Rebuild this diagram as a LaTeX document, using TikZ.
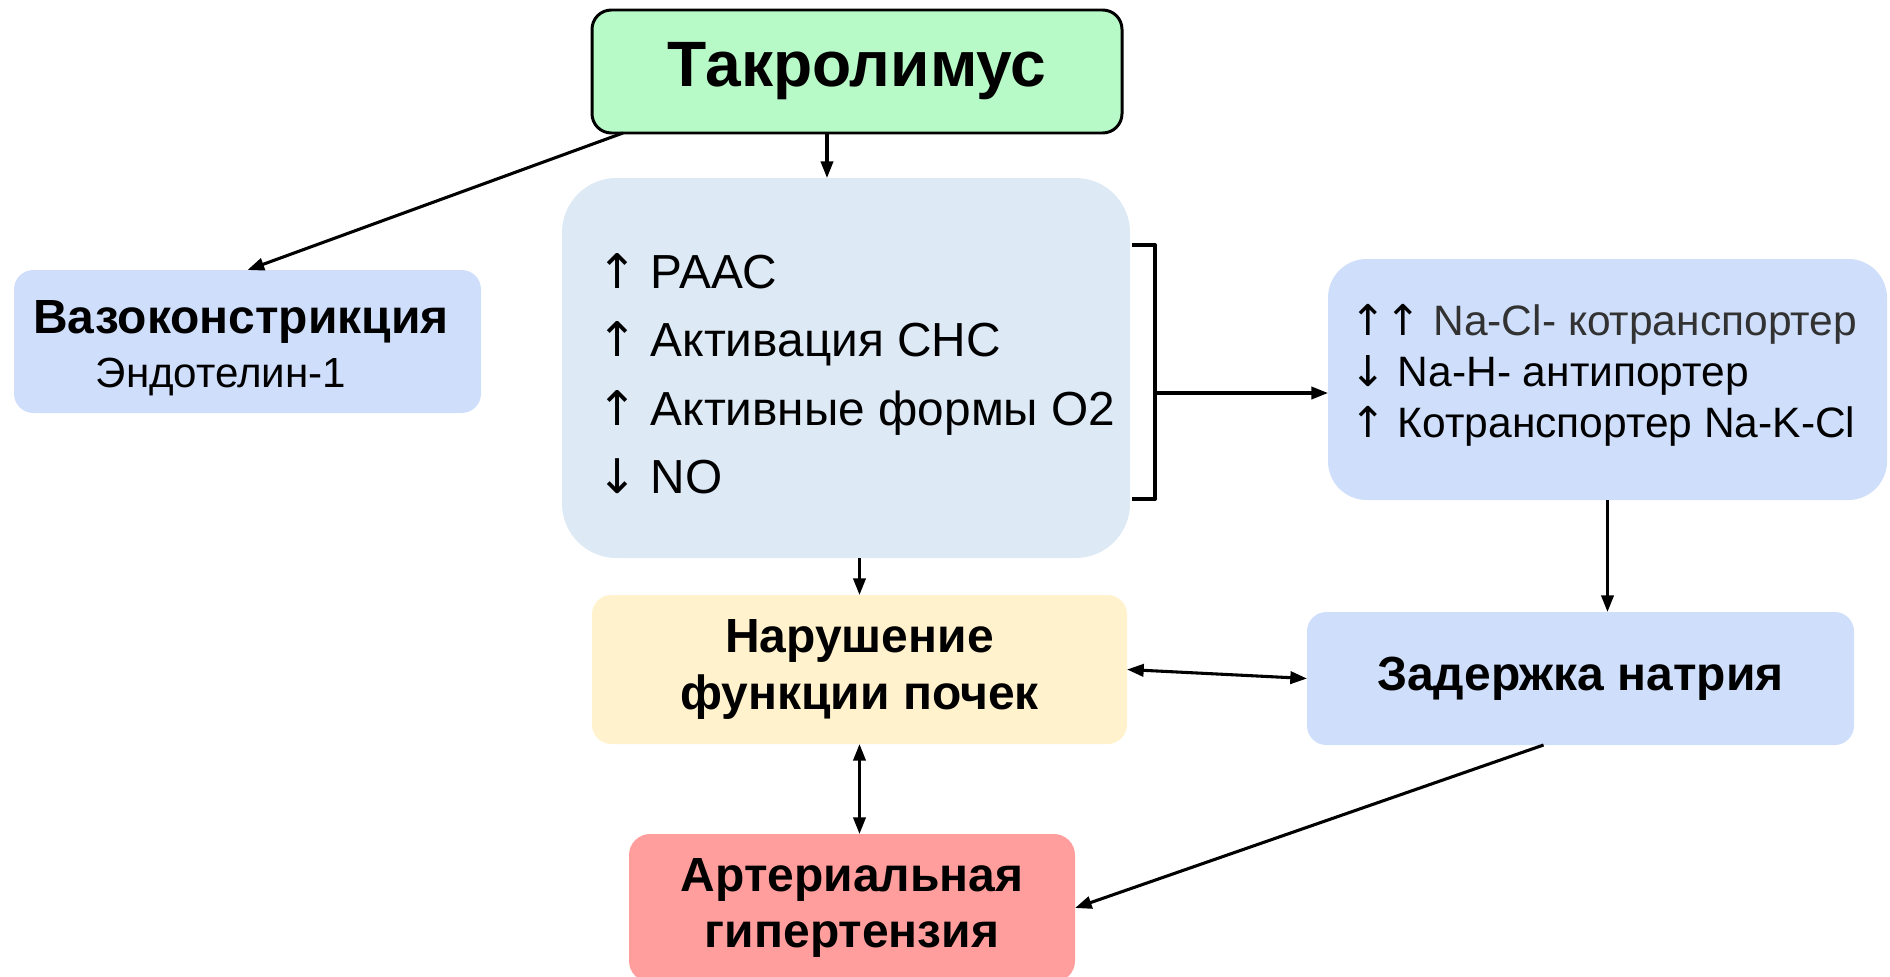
\documentclass[tikz,border=0pt]{standalone}
\usepackage{fontspec}
\setmainfont{Liberation Sans}
\newfontfamily\arrfont{DejaVu Sans}
\usetikzlibrary{arrows.meta,calc}
\definecolor{tacgreen}{RGB}{183,249,199}
\definecolor{vasob}{RGB}{207,222,250}
\definecolor{mechb}{RGB}{222,233,246}
\definecolor{naryel}{RGB}{255,242,204}
\definecolor{artred}{RGB}{255,158,156}
\definecolor{natxt}{RGB}{50,50,50}
\newcommand{\myup}{{\arrfont ↑}}
\newcommand{\mydown}{{\arrfont ↓}}
\begin{document}
\begin{tikzpicture}[x=0.02cm,y=-0.02cm,
  sz/.style 2 args={minimum width=#1*0.02cm, minimum height=#2*0.02cm},
  boxb/.style={inner sep=0pt, outer sep=0pt, align=center},
  boldlbl/.style={font=\fontsize{27.3}{32}\selectfont\bfseries},
  arr/.style={-{Triangle[length=9.5pt,width=7pt]}, line width=1.75pt},
  darr/.style={{Triangle[length=9.5pt,width=7pt]}-{Triangle[length=9.5pt,width=7pt]}, line width=1.75pt},
  brk/.style={line width=2.3pt, line join=round}]
\useasboundingbox (0,0) rectangle (1890,977);

% boxes
\node[boxb, draw=black, line width=1.7pt, fill=tacgreen, rounded corners=11pt, sz={530}{123},
      font=\fontsize{36.5}{42}\selectfont\bfseries] (tac) at (857,71.5) {Такролимус};

\node[boxb, fill=vasob, rounded corners=11pt, sz={467}{143}] (vaso) at (247.5,341.5) {};
\node[anchor=base, inner sep=0pt, boldlbl] (vasot) at (241,333) {Вазоконстрикция};
\node[anchor=base, inner sep=0pt, font=\fontsize{24}{28}\selectfont] (vasos) at (221,387) {Эндотелин-1};

\node[boxb, fill=mechb, rounded corners=31pt, sz={568}{380}] (mech) at (846,368) {};
\node[anchor=north west, align=left, inner sep=0pt, font=\fontsize{27.2}{39}\selectfont] (mecht) at (597,253)
  {\myup{} РААС\\\myup{} Активация СНС\\\myup{} Активные формы О2\\\mydown{} NO};

\node[boxb, fill=vasob, rounded corners=22pt, sz={559}{241}] (trans) at (1607.5,379.5) {};
\node[anchor=north west, align=left, inner sep=0pt, font=\fontsize{24.2}{29}\selectfont] (transt) at (1350,304)
  {\myup\myup{} \textcolor{natxt}{Na-Cl- котранспортер}\\\mydown{} Na-H- антипортер\\\myup{} Котранспортер Na-K-Cl};

\node[boxb, fill=naryel, rounded corners=11pt, sz={535}{149}, boldlbl] (nar) at (859.5,669.5)
  {Нарушение\\функции почек};
\node[boxb, fill=vasob, rounded corners=11pt, sz={547}{133}, boldlbl] (zad) at (1580.5,678.5)
  {Задержка натрия};
\node[boxb, fill=artred, rounded corners=12pt, sz={446}{148}, boldlbl] (art) at (852,908)
  {Артериальная\\гипертензия};

% bracket
\draw[brk] (1132,245) -- (1155,245) -- (1155,499) -- (1132,499);
\coordinate (bk) at (1157,393);
\coordinate (a1) at (827,0);

% connectors
\draw[arr] (tac.south -| a1) -- (mech.north -| a1);
\draw[arr] ([xshift=0.62cm]tac.south west) -- (vaso.north);
\draw[arr] (mech.south -| nar.north) -- (nar.north);
\draw[arr] (bk) -- (bk -| trans.west);
\draw[arr] (trans.south) -- (trans.south |- zad.north);
\draw[darr] (nar.east) -- (zad.west);
\draw[darr] (nar.south) -- (nar.south |- art.north);
\draw[arr] ([xshift=-0.74cm]zad.south) -- (art.east);
\end{tikzpicture}
\end{document}
